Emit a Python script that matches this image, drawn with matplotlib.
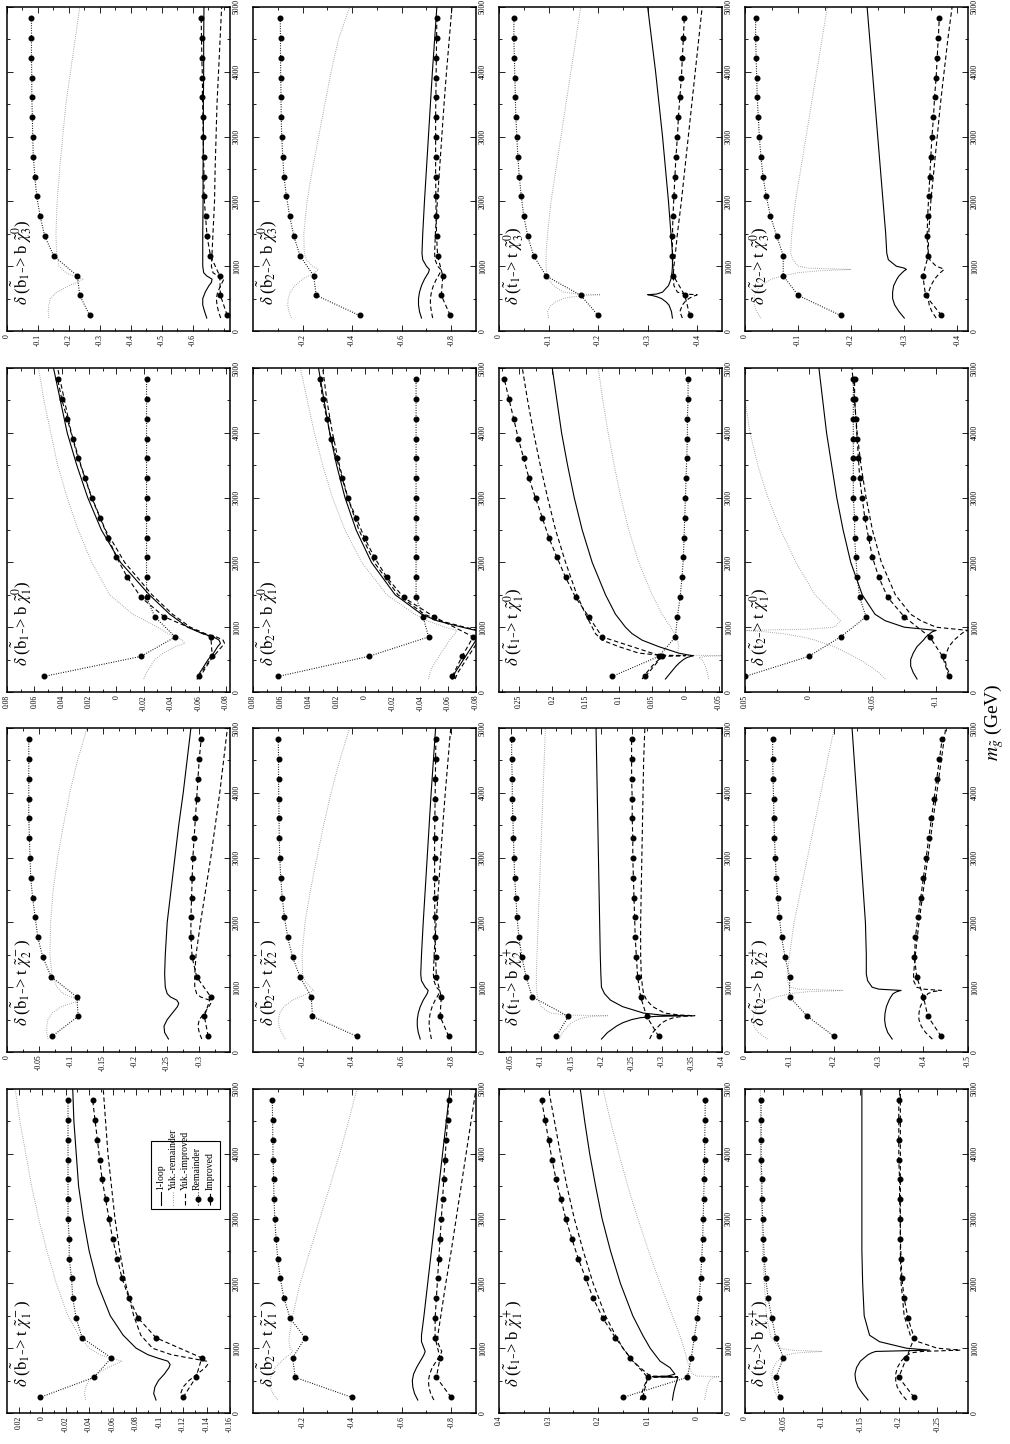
import matplotlib
matplotlib.use("Agg")
import matplotlib.pyplot as plt
from matplotlib.patches import Rectangle

plt.rcParams['font.family'] = ['Liberation Serif', 'DejaVu Serif']
plt.rcParams['mathtext.fontset'] = 'stix'
plt.rcParams['axes.unicode_minus'] = False

# gluino mass grids (GeV)
M_DOTS = [240, 550, 850, 1160, 1460, 1770, 2080, 2380, 2690, 2990, 3300, 3610, 3910, 4220, 4520, 4830]
M_B1 = [200, 300, 400, 500, 600, 700, 750, 800, 850, 900, 1000, 1200, 1500, 2000, 2500, 3000, 3500, 4000, 4500, 5000]
M_B2 = [200, 300, 400, 500, 600, 700, 800, 850, 900, 950, 1000, 1100, 1200, 1500, 2000, 2500, 3000, 3500, 4000, 4500, 5000]
M_T1 = [200, 300, 400, 450, 500, 530, 550, 560, 570, 600, 700, 800, 900, 1000, 1200, 1500, 2000, 2500, 3000, 3500, 4000, 4500, 5000]
M_T2 = [200, 300, 400, 500, 600, 700, 800, 850, 900, 930, 950, 970, 1000, 1100, 1200, 1500, 2000, 2500, 3000, 3500, 4000, 4500, 5000]

# ---- sbottom_1 ----
b1n3_loop = [-0.645, -0.638, -0.632, -0.632, -0.64, -0.652, -0.66, -0.662, -0.645, -0.635, -0.632, -0.632, -0.632, -0.633, -0.633, -0.634, -0.634, -0.635, -0.635, -0.636]
b1n3_yrem = [-0.135, -0.133, -0.135, -0.14, -0.16, -0.2, -0.225, -0.245, -0.215, -0.19, -0.168, -0.16, -0.158, -0.162, -0.17, -0.18, -0.19, -0.205, -0.22, -0.235]
b1n3_yimp = [-0.69, -0.683, -0.678, -0.676, -0.68, -0.69, -0.695, -0.7, -0.68, -0.665, -0.66, -0.662, -0.665, -0.67, -0.672, -0.675, -0.678, -0.683, -0.688, -0.693]
b1n3_rem = [-0.267, -0.235, -0.227, -0.151, -0.122, -0.107, -0.096, -0.090, -0.085, -0.083, -0.082, -0.080, -0.080, -0.079, -0.079, -0.079]
b1n3_imp = [-0.711, -0.689, -0.687, -0.657, -0.646, -0.641, -0.636, -0.636, -0.635, -0.633, -0.633, -0.631, -0.631, -0.629, -0.628, -0.627]

b1n1_loop = [-0.059, -0.061, -0.064, -0.067, -0.071, -0.074, -0.076, -0.075, -0.071, -0.063, -0.052, -0.039, -0.024, -0.003, 0.011, 0.021, 0.029, 0.036, 0.041, 0.046]
b1n1_yrem = [-0.02, -0.022, -0.025, -0.028, -0.034, -0.043, -0.05, -0.048, -0.044, -0.038, -0.03, -0.012, 0.005, 0.018, 0.028, 0.036, 0.043, 0.048, 0.053, 0.057]
b1n1_yimp = [-0.061, -0.063, -0.066, -0.069, -0.073, -0.077, -0.079, -0.078, -0.073, -0.065, -0.054, -0.041, -0.026, -0.006, 0.008, 0.018, 0.026, 0.033, 0.038, 0.043]
b1n1_rem = [0.053, -0.018, -0.043, -0.028, -0.022, -0.022, -0.022, -0.022, -0.022, -0.022, -0.022, -0.022, -0.022, -0.022, -0.022, -0.022]
b1n1_imp = [-0.06, -0.07, -0.069, -0.035, -0.018, -0.008, 0.0, 0.006, 0.012, 0.018, 0.023, 0.028, 0.032, 0.036, 0.04, 0.043]

b1c2_loop = [-0.252, -0.246, -0.245, -0.25, -0.258, -0.266, -0.268, -0.265, -0.255, -0.25, -0.247, -0.246, -0.247, -0.25, -0.256, -0.262, -0.268, -0.275, -0.281, -0.287]
b1c2_yrem = [-0.064, -0.062, -0.062, -0.064, -0.07, -0.085, -0.1, -0.115, -0.1, -0.088, -0.078, -0.07, -0.067, -0.068, -0.072, -0.079, -0.088, -0.098, -0.11, -0.125]
b1c2_yimp = [-0.304, -0.3, -0.298, -0.3, -0.308, -0.315, -0.318, -0.316, -0.302, -0.296, -0.293, -0.293, -0.295, -0.302, -0.31, -0.318, -0.325, -0.332, -0.338, -0.344]
b1c2_rem = [-0.07, -0.111, -0.109, -0.069, -0.056, -0.048, -0.044, -0.040, -0.037, -0.036, -0.035, -0.034, -0.034, -0.034, -0.034, -0.034]
b1c2_imp = [-0.314, -0.308, -0.318, -0.296, -0.289, -0.287, -0.287, -0.288, -0.289, -0.29, -0.292, -0.294, -0.296, -0.298, -0.3, -0.303]

b1c1_loop = [-0.097, -0.095, -0.096, -0.099, -0.104, -0.108, -0.109, -0.107, -0.098, -0.09, -0.08, -0.069, -0.058, -0.047, -0.04, -0.035, -0.031, -0.029, -0.027, -0.026]
b1c1_yrem = [-0.037, -0.036, -0.037, -0.04, -0.046, -0.056, -0.062, -0.068, -0.058, -0.049, -0.04, -0.031, -0.022, -0.012, -0.004, 0.003, 0.009, 0.014, 0.019, 0.023]
b1c1_yimp = [-0.12, -0.118, -0.12, -0.125, -0.132, -0.139, -0.141, -0.14, -0.125, -0.11, -0.094, -0.084, -0.078, -0.071, -0.066, -0.062, -0.059, -0.056, -0.054, -0.052]
b1c1_rem = [0.002, -0.044, -0.059, -0.034, -0.029, -0.026, -0.025, -0.023, -0.023, -0.022, -0.022, -0.022, -0.022, -0.022, -0.022, -0.022]
b1c1_imp = [-0.12, -0.131, -0.136, -0.097, -0.082, -0.074, -0.068, -0.064, -0.06, -0.057, -0.054, -0.051, -0.049, -0.047, -0.045, -0.043]

# ---- sbottom_2 ----
b2n3_loop = [-0.68, -0.672, -0.668, -0.668, -0.672, -0.68, -0.692, -0.7, -0.708, -0.712, -0.7, -0.685, -0.682, -0.685, -0.692, -0.7, -0.708, -0.716, -0.724, -0.733, -0.742]
b2n3_yrem = [-0.155, -0.145, -0.14, -0.142, -0.15, -0.17, -0.2, -0.225, -0.25, -0.265, -0.24, -0.215, -0.207, -0.205, -0.218, -0.24, -0.265, -0.29, -0.315, -0.345, -0.39]
b2n3_yimp = [-0.725, -0.72, -0.716, -0.716, -0.72, -0.728, -0.74, -0.748, -0.755, -0.758, -0.745, -0.735, -0.733, -0.736, -0.744, -0.753, -0.762, -0.771, -0.781, -0.792, -0.803]
b2n3_rem = [-0.43, -0.255, -0.245, -0.19, -0.165, -0.148, -0.135, -0.125, -0.12, -0.116, -0.114, -0.113, -0.112, -0.111, -0.111, -0.11]
b2n3_imp = [-0.796, -0.76, -0.766, -0.745, -0.741, -0.739, -0.738, -0.737, -0.737, -0.737, -0.737, -0.738, -0.739, -0.74, -0.741, -0.742]

b2n1_loop = [-0.063, -0.065, -0.068, -0.071, -0.074, -0.077, -0.08, -0.081, -0.082, -0.08, -0.07, -0.052, -0.041, -0.022, -0.005, 0.006, 0.014, 0.02, 0.025, 0.029, 0.033]
b2n1_yrem = [-0.046, -0.047, -0.049, -0.052, -0.055, -0.058, -0.061, -0.063, -0.065, -0.066, -0.058, -0.045, -0.036, -0.016, 0.002, 0.014, 0.023, 0.03, 0.036, 0.041, 0.046]
b2n1_yimp = [-0.065, -0.067, -0.07, -0.073, -0.076, -0.079, -0.082, -0.083, -0.084, -0.082, -0.072, -0.054, -0.043, -0.024, -0.007, 0.004, 0.012, 0.018, 0.023, 0.027, 0.03]
b2n1_rem = [0.062, -0.003, -0.046, -0.042, -0.037, -0.037, -0.037, -0.037, -0.037, -0.037, -0.037, -0.037, -0.037, -0.037, -0.037, -0.037]
b2n1_imp = [-0.063, -0.07, -0.078, -0.05, -0.028, -0.016, -0.007, 0.0, 0.006, 0.012, 0.016, 0.02, 0.024, 0.027, 0.03, 0.032]

b2c2_loop = [-0.675, -0.667, -0.663, -0.663, -0.667, -0.675, -0.687, -0.695, -0.703, -0.707, -0.695, -0.68, -0.677, -0.68, -0.687, -0.695, -0.703, -0.711, -0.719, -0.728, -0.737]
b2c2_yrem = [-0.13, -0.115, -0.105, -0.103, -0.108, -0.125, -0.16, -0.19, -0.22, -0.245, -0.23, -0.21, -0.2, -0.198, -0.21, -0.232, -0.258, -0.285, -0.315, -0.35, -0.39]
b2c2_yimp = [-0.72, -0.715, -0.711, -0.711, -0.715, -0.723, -0.735, -0.743, -0.75, -0.753, -0.74, -0.73, -0.728, -0.731, -0.739, -0.748, -0.757, -0.766, -0.776, -0.787, -0.798]
b2c2_rem = [-0.42, -0.24, -0.235, -0.19, -0.16, -0.14, -0.127, -0.118, -0.112, -0.108, -0.106, -0.105, -0.104, -0.103, -0.103, -0.102]
b2c2_imp = [-0.79, -0.755, -0.76, -0.74, -0.737, -0.735, -0.734, -0.733, -0.733, -0.733, -0.733, -0.734, -0.735, -0.736, -0.737, -0.738]

b2c1_loop = [-0.665, -0.652, -0.645, -0.643, -0.648, -0.66, -0.675, -0.683, -0.69, -0.695, -0.69, -0.68, -0.68, -0.69, -0.705, -0.72, -0.735, -0.75, -0.765, -0.78, -0.795]
b2c1_yrem = [-0.1, -0.08, -0.07, -0.068, -0.075, -0.09, -0.115, -0.13, -0.148, -0.16, -0.15, -0.145, -0.147, -0.16, -0.19, -0.23, -0.27, -0.31, -0.35, -0.385, -0.42]
b2c1_yimp = [-0.73, -0.717, -0.71, -0.708, -0.713, -0.723, -0.74, -0.748, -0.756, -0.762, -0.755, -0.745, -0.746, -0.758, -0.778, -0.8, -0.82, -0.84, -0.86, -0.88, -0.9]
b2c1_rem = [-0.4, -0.17, -0.16, -0.21, -0.15, -0.125, -0.11, -0.1, -0.093, -0.088, -0.085, -0.083, -0.081, -0.08, -0.079, -0.078]
b2c1_imp = [-0.8, -0.74, -0.755, -0.735, -0.735, -0.74, -0.745, -0.75, -0.755, -0.76, -0.765, -0.77, -0.775, -0.78, -0.785, -0.79]

# ---- stop_1 ----
t1n3_loop = [-0.35, -0.348, -0.343, -0.337, -0.328, -0.318, -0.308, -0.3, -0.318, -0.33, -0.342, -0.347, -0.349, -0.35, -0.35, -0.347, -0.342, -0.336, -0.33, -0.323, -0.316, -0.308, -0.3]
t1n3_yrem = [-0.1, -0.098, -0.105, -0.115, -0.13, -0.15, -0.18, -0.205, -0.16, -0.13, -0.11, -0.1, -0.096, -0.095, -0.095, -0.098, -0.105, -0.115, -0.125, -0.135, -0.145, -0.155, -0.165]
t1n3_yimp = [-0.37, -0.365, -0.37, -0.375, -0.383, -0.39, -0.397, -0.4, -0.375, -0.36, -0.353, -0.352, -0.352, -0.353, -0.356, -0.36, -0.368, -0.375, -0.382, -0.389, -0.396, -0.403, -0.41]
t1n3_rem = [-0.2, -0.165, -0.095, -0.07, -0.058, -0.05, -0.045, -0.041, -0.038, -0.036, -0.034, -0.033, -0.032, -0.031, -0.03, -0.03]
t1n3_imp = [-0.385, -0.375, -0.352, -0.35, -0.35, -0.351, -0.353, -0.355, -0.357, -0.36, -0.362, -0.365, -0.368, -0.37, -0.372, -0.374]

t1n1_loop = [0.03, 0.022, 0.014, 0.009, 0.003, -0.002, -0.008, -0.012, -0.005, 0.01, 0.04, 0.065, 0.08, 0.09, 0.105, 0.12, 0.14, 0.155, 0.167, 0.177, 0.186, 0.193, 0.2]
t1n1_yrem = [-0.035, -0.033, -0.03, -0.028, -0.025, -0.02, -0.03, -0.055, 0.01, 0.012, 0.01, 0.012, 0.016, 0.022, 0.035, 0.05, 0.07, 0.085, 0.097, 0.107, 0.116, 0.124, 0.131]
t1n1_yimp = [0.065, 0.058, 0.05, 0.045, 0.04, 0.035, 0.03, 0.0, 0.04, 0.07, 0.1, 0.125, 0.135, 0.14, 0.15, 0.163, 0.18, 0.195, 0.207, 0.218, 0.228, 0.237, 0.245]
t1n1_rem = [0.11, 0.04, 0.015, 0.012, 0.008, 0.005, 0.003, 0.002, 0.001, 0.0, -0.001, -0.002, -0.003, -0.003, -0.004, -0.004]
t1n1_imp = [0.06, 0.035, 0.125, 0.145, 0.165, 0.18, 0.193, 0.205, 0.215, 0.225, 0.235, 0.243, 0.251, 0.258, 0.265, 0.272]

t1c2_loop = [-0.2, -0.21, -0.225, -0.235, -0.25, -0.265, -0.29, -0.35, -0.3, -0.27, -0.235, -0.215, -0.205, -0.2, -0.199, -0.198, -0.197, -0.196, -0.195, -0.194, -0.193, -0.192, -0.191]
t1c2_yrem = [-0.13, -0.135, -0.145, -0.15, -0.16, -0.17, -0.185, -0.21, -0.14, -0.115, -0.1, -0.095, -0.093, -0.092, -0.092, -0.093, -0.095, -0.097, -0.099, -0.101, -0.103, -0.105, -0.107]
t1c2_yimp = [-0.28, -0.285, -0.295, -0.3, -0.31, -0.32, -0.335, -0.355, -0.33, -0.305, -0.285, -0.275, -0.27, -0.268, -0.266, -0.265, -0.265, -0.266, -0.267, -0.268, -0.269, -0.27, -0.272]
t1c2_rem = [-0.125, -0.145, -0.085, -0.075, -0.068, -0.063, -0.06, -0.058, -0.056, -0.055, -0.054, -0.053, -0.052, -0.052, -0.051, -0.051]
t1c2_imp = [-0.295, -0.275, -0.265, -0.26, -0.258, -0.256, -0.255, -0.254, -0.253, -0.252, -0.252, -0.251, -0.251, -0.25, -0.25, -0.25]

t1c1_loop = [0.05, 0.048, 0.045, 0.043, 0.041, 0.04, 0.039, 0.09, 0.06, 0.045, 0.055, 0.075, 0.085, 0.095, 0.11, 0.13, 0.155, 0.175, 0.192, 0.205, 0.217, 0.227, 0.236]
t1c1_yrem = [-0.015, -0.017, -0.02, -0.022, -0.025, -0.028, -0.032, -0.045, 0.0, 0.01, 0.015, 0.02, 0.023, 0.027, 0.035, 0.05, 0.075, 0.098, 0.12, 0.14, 0.158, 0.175, 0.19]
t1c1_yimp = [0.115, 0.112, 0.108, 0.105, 0.102, 0.098, 0.094, 0.04, 0.09, 0.1, 0.115, 0.13, 0.14, 0.15, 0.165, 0.185, 0.21, 0.23, 0.248, 0.263, 0.276, 0.288, 0.3]
t1c1_rem = [0.15, 0.02, 0.012, 0.006, 0.0, -0.004, -0.007, -0.009, -0.011, -0.012, -0.013, -0.014, -0.015, -0.015, -0.016, -0.016]
t1c1_imp = [0.11, 0.1, 0.135, 0.165, 0.19, 0.21, 0.225, 0.24, 0.253, 0.265, 0.275, 0.285, 0.293, 0.3, 0.307, 0.314]

# ---- stop_2 ----
t2n3_loop = [-0.3, -0.29, -0.282, -0.278, -0.278, -0.28, -0.286, -0.29, -0.296, -0.3, -0.304, -0.3, -0.285, -0.27, -0.267, -0.265, -0.26, -0.255, -0.25, -0.245, -0.24, -0.235, -0.23]
t2n3_yrem = [-0.03, -0.022, -0.018, -0.017, -0.02, -0.03, -0.05, -0.07, -0.1, -0.14, -0.2, -0.12, -0.1, -0.09, -0.086, -0.088, -0.095, -0.105, -0.115, -0.125, -0.135, -0.145, -0.155]
t2n3_yimp = [-0.36, -0.352, -0.347, -0.345, -0.346, -0.35, -0.357, -0.362, -0.368, -0.372, -0.375, -0.37, -0.36, -0.348, -0.345, -0.346, -0.35, -0.356, -0.362, -0.368, -0.375, -0.382, -0.39]
t2n3_rem = [-0.18, -0.1, -0.072, -0.072, -0.06, -0.048, -0.04, -0.034, -0.03, -0.027, -0.025, -0.023, -0.022, -0.021, -0.02, -0.02]
t2n3_imp = [-0.37, -0.34, -0.335, -0.345, -0.343, -0.344, -0.346, -0.348, -0.35, -0.352, -0.355, -0.357, -0.36, -0.362, -0.364, -0.366]

t2n1_loop = [-0.085, -0.082, -0.08, -0.08, -0.082, -0.085, -0.09, -0.092, -0.095, -0.097, -0.1, -0.09, -0.075, -0.06, -0.052, -0.042, -0.033, -0.027, -0.022, -0.018, -0.014, -0.011, -0.008]
t2n1_yrem = [-0.06, -0.055, -0.048, -0.04, -0.03, -0.02, -0.005, 0.005, 0.02, 0.035, 0.05, 0.0, -0.02, -0.025, -0.02, -0.005, 0.01, 0.022, 0.032, 0.04, 0.046, 0.05, 0.053]
t2n1_yimp = [-0.112, -0.11, -0.108, -0.107, -0.108, -0.11, -0.114, -0.117, -0.12, -0.122, -0.125, -0.115, -0.1, -0.088, -0.08, -0.068, -0.057, -0.05, -0.045, -0.041, -0.038, -0.036, -0.034]
t2n1_rem = [0.05, 0.0, -0.025, -0.045, -0.04, -0.038, -0.037, -0.036, -0.036, -0.035, -0.035, -0.035, -0.035, -0.035, -0.035, -0.035]
t2n1_imp = [-0.11, -0.105, -0.095, -0.075, -0.062, -0.055, -0.05, -0.047, -0.044, -0.042, -0.04, -0.039, -0.038, -0.037, -0.036, -0.036]

t2c2_loop = [-0.33, -0.32, -0.315, -0.313, -0.314, -0.317, -0.323, -0.327, -0.332, -0.34, -0.35, -0.3, -0.285, -0.275, -0.272, -0.272, -0.27, -0.265, -0.26, -0.255, -0.25, -0.245, -0.24]
t2c2_yrem = [-0.05, -0.03, -0.02, -0.018, -0.02, -0.03, -0.05, -0.07, -0.1, -0.14, -0.22, -0.12, -0.1, -0.095, -0.095, -0.1, -0.11, -0.125, -0.14, -0.155, -0.17, -0.185, -0.2]
t2c2_yimp = [-0.42, -0.405, -0.395, -0.39, -0.39, -0.393, -0.4, -0.405, -0.41, -0.42, -0.44, -0.4, -0.385, -0.378, -0.378, -0.382, -0.39, -0.4, -0.41, -0.42, -0.43, -0.44, -0.45]
t2c2_rem = [-0.2, -0.14, -0.1, -0.1, -0.09, -0.082, -0.077, -0.073, -0.07, -0.068, -0.066, -0.065, -0.064, -0.063, -0.062, -0.062]
t2c2_imp = [-0.44, -0.41, -0.4, -0.385, -0.38, -0.382, -0.388, -0.394, -0.4, -0.406, -0.412, -0.418, -0.424, -0.43, -0.436, -0.442]

t2c1_loop = [-0.16, -0.153, -0.147, -0.144, -0.143, -0.145, -0.15, -0.155, -0.16, -0.165, -0.17, -0.24, -0.21, -0.175, -0.162, -0.155, -0.153, -0.152, -0.152, -0.152, -0.152, -0.152, -0.152]
t2c1_yrem = [-0.045, -0.04, -0.037, -0.035, -0.035, -0.037, -0.042, -0.047, -0.055, -0.07, -0.1, -0.06, -0.045, -0.038, -0.033, -0.028, -0.025, -0.023, -0.022, -0.021, -0.02, -0.02, -0.02]
t2c1_yimp = [-0.21, -0.203, -0.198, -0.196, -0.196, -0.198, -0.203, -0.207, -0.212, -0.217, -0.23, -0.28, -0.25, -0.225, -0.215, -0.207, -0.203, -0.202, -0.202, -0.202, -0.202, -0.202, -0.202]
t2c1_rem = [-0.045, -0.04, -0.05, -0.04, -0.035, -0.03, -0.027, -0.025, -0.024, -0.023, -0.022, -0.022, -0.021, -0.021, -0.021, -0.021]
t2c1_imp = [-0.22, -0.2, -0.21, -0.22, -0.212, -0.207, -0.204, -0.203, -0.202, -0.202, -0.201, -0.201, -0.2, -0.2, -0.2, -0.2]

# axis ranges and ticks (left value, right value, labelled ticks)
b1n3_axis = (0.0, -0.72, [0, -0.1, -0.2, -0.3, -0.4, -0.5, -0.6])
b1n1_axis = (0.08, -0.083, [0.08, 0.06, 0.04, 0.02, 0, -0.02, -0.04, -0.06, -0.08])
b1c2_axis = (0.0, -0.348, [0, -0.05, -0.1, -0.15, -0.2, -0.25, -0.3])
b1c1_axis = (0.03, -0.16, [0.02, 0, -0.02, -0.04, -0.06, -0.08, -0.1, -0.12, -0.14, -0.16])
b2n3_axis = (0.0, -0.9, [-0.2, -0.4, -0.6, -0.8])
b2n1_axis = (0.08, -0.08, [0.08, 0.06, 0.04, 0.02, 0, -0.02, -0.04, -0.06, -0.08])
b2c2_axis = (0.0, -0.9, [-0.2, -0.4, -0.6, -0.8])
b2c1_axis = (0.0, -0.9, [-0.2, -0.4, -0.6, -0.8])
t1n3_axis = (0.0, -0.45, [0, -0.1, -0.2, -0.3, -0.4])
t1n1_axis = (0.28, -0.055, [0.25, 0.2, 0.15, 0.1, 0.05, 0, -0.05])
t1c2_axis = (-0.03, -0.4, [-0.05, -0.1, -0.15, -0.2, -0.25, -0.3, -0.35, -0.4])
t1c1_axis = (0.4, -0.05, [0.4, 0.3, 0.2, 0.1, 0])
t2n3_axis = (0.0, -0.42, [0, -0.1, -0.2, -0.3, -0.4])
t2n1_axis = (0.05, -0.125, [0.05, 0, -0.05, -0.1])
t2c2_axis = (0.0, -0.5, [0, -0.1, -0.2, -0.3, -0.4, -0.5])
t2c1_axis = (0.0, -0.29, [0, -0.05, -0.1, -0.15, -0.2, -0.25])

titles = {
    'b1n3': r'$\delta$ ($\tilde{\mathrm{b}}_1$-> b $\tilde{\chi}^0_3$)',
    'b1n1': r'$\delta$ ($\tilde{\mathrm{b}}_1$-> b $\tilde{\chi}^0_1$)',
    'b1c2': r'$\delta$ ($\tilde{\mathrm{b}}_1$-> t $\tilde{\chi}^-_2$)',
    'b1c1': r'$\delta$ ($\tilde{\mathrm{b}}_1$-> t $\tilde{\chi}^-_1$)',
    'b2n3': r'$\delta$ ($\tilde{\mathrm{b}}_2$-> b $\tilde{\chi}^0_3$)',
    'b2n1': r'$\delta$ ($\tilde{\mathrm{b}}_2$-> b $\tilde{\chi}^0_1$)',
    'b2c2': r'$\delta$ ($\tilde{\mathrm{b}}_2$-> t $\tilde{\chi}^-_2$)',
    'b2c1': r'$\delta$ ($\tilde{\mathrm{b}}_2$-> t $\tilde{\chi}^-_1$)',
    't1n3': r'$\delta$ ($\tilde{\mathrm{t}}_1$-> t $\tilde{\chi}^0_3$)',
    't1n1': r'$\delta$ ($\tilde{\mathrm{t}}_1$-> t $\tilde{\chi}^0_1$)',
    't1c2': r'$\delta$ ($\tilde{\mathrm{t}}_1$-> b $\tilde{\chi}^+_2$)',
    't1c1': r'$\delta$ ($\tilde{\mathrm{t}}_1$-> b $\tilde{\chi}^+_1$)',
    't2n3': r'$\delta$ ($\tilde{\mathrm{t}}_2$-> t $\tilde{\chi}^0_3$)',
    't2n1': r'$\delta$ ($\tilde{\mathrm{t}}_2$-> t $\tilde{\chi}^0_1$)',
    't2c2': r'$\delta$ ($\tilde{\mathrm{t}}_2$-> b $\tilde{\chi}^+_2$)',
    't2c1': r'$\delta$ ($\tilde{\mathrm{t}}_2$-> b $\tilde{\chi}^+_1$)',
}

g = globals()
columns = [('b1', M_B1), ('b2', M_B2), ('t1', M_T1), ('t2', M_T2)]
rows = ['n3', 'n1', 'c2', 'c1']

# page geometry in pixels (figure is the landscape page turned on its side)
W, H = 1010, 1444
COL_X = [7, 253, 499, 745]
ROW_Y = [7, 368, 728, 1089]
PW, PH = 223, 324

GREY_DOT = (0, (0.6, 1.6))
DOTTED = (0, (0.8, 1.4))
DASHED = (0, (4, 2.5))

fig = plt.figure(figsize=(W / 100, H / 100), dpi=100)

def fmt(v):
    return '%g' % v

for ci, (sq, mline) in enumerate(columns):
    for ri, ch in enumerate(rows):
        key = sq + ch
        left, right, ticks = g[key + '_axis']
        ax = fig.add_axes([COL_X[ci] / W, 1 - (ROW_Y[ri] + PH) / H, PW / W, PH / H])

        ax.plot(g[key + '_yrem'], mline, color='0.45', lw=0.7, ls=GREY_DOT)
        ax.plot(g[key + '_loop'], mline, color='k', lw=0.8, ls='-')
        ax.plot(g[key + '_yimp'], mline, color='k', lw=0.8, ls=DASHED)
        ax.plot(g[key + '_rem'], M_DOTS, color='k', lw=0.8, ls=DOTTED,
                marker='o', ms=3.3)
        ax.plot(g[key + '_imp'], M_DOTS, color='k', lw=0.8, ls=DASHED,
                marker='o', ms=3.3)

        ax.set_xlim(left, right)
        ax.set_ylim(0, 5000)
        ax.set_xticks(ticks)
        ax.set_xticklabels([fmt(t) for t in ticks])
        # half-step minor ticks on the delta axis
        step = abs(ticks[1] - ticks[0]) / 2
        lo, hi = min(left, right), max(left, right)
        k0 = int(round(lo / step)) - 1
        minor = [k * step for k in range(k0, k0 + 60) if lo < k * step < hi]
        ax.set_xticks(minor, minor=True)
        ax.set_yticks([0, 1000, 2000, 3000, 4000, 5000])
        ax.set_yticks([500, 1500, 2500, 3500, 4500], minor=True)
        ax.yaxis.tick_right()
        ax.tick_params(axis='both', which='both', direction='in', top=True, bottom=True,
                       left=True, right=True, labelleft=False, labelright=True,
                       labelsize=5.5, pad=2)
        ax.tick_params(axis='both', which='major', length=4, width=0.6)
        ax.tick_params(axis='both', which='minor', length=2.5, width=0.6)
        for lab in ax.get_xticklabels():
            lab.set_rotation(90)
            lab.set_va('top')
            lab.set_ha('center')
        for lab in ax.get_yticklabels():
            lab.set_rotation(90)
            lab.set_va('center')
            lab.set_ha('left')
        for sp in ax.spines.values():
            sp.set_linewidth(1.1)

        ax.text(0.065, 0.08, titles[key], transform=ax.transAxes, rotation=90,
                ha='center', va='bottom', fontsize=12)

        if key == 'b1c1':
            # legend drawn sideways, matching the turned page
            ax.add_patch(Rectangle((0.645, 0.63), 0.31, 0.21, transform=ax.transAxes,
                                   fill=False, lw=0.8, color='k'))
            entries = [('1-loop', dict(color='k', ls='-'), False),
                       ('Yuk.-remainder', dict(color='0.45', ls=GREY_DOT), False),
                       ('Yuk.-improved', dict(color='k', ls=DASHED), False),
                       ('Remainder', dict(color='k', ls=DOTTED), True),
                       ('Improved', dict(color='k', ls=DASHED), True)]
            for i, (lab, st, dot) in enumerate(entries):
                xx = 0.69 + 0.055 * i
                ax.plot([xx, xx], [0.642, 0.682], transform=ax.transAxes, lw=0.8, **st)
                if dot:
                    ax.plot([xx], [0.662], transform=ax.transAxes, marker='o', ms=3.3,
                            color='k')
                ax.text(xx, 0.688, lab, transform=ax.transAxes, rotation=90,
                        ha='center', va='bottom', fontsize=7)

fig.text(994 / W, 1 - 722 / H, r'$m_{\tilde{g}}$ (GeV)', rotation=90, ha='center',
         va='center', fontsize=14)

fig.savefig('out.png', dpi=100)
